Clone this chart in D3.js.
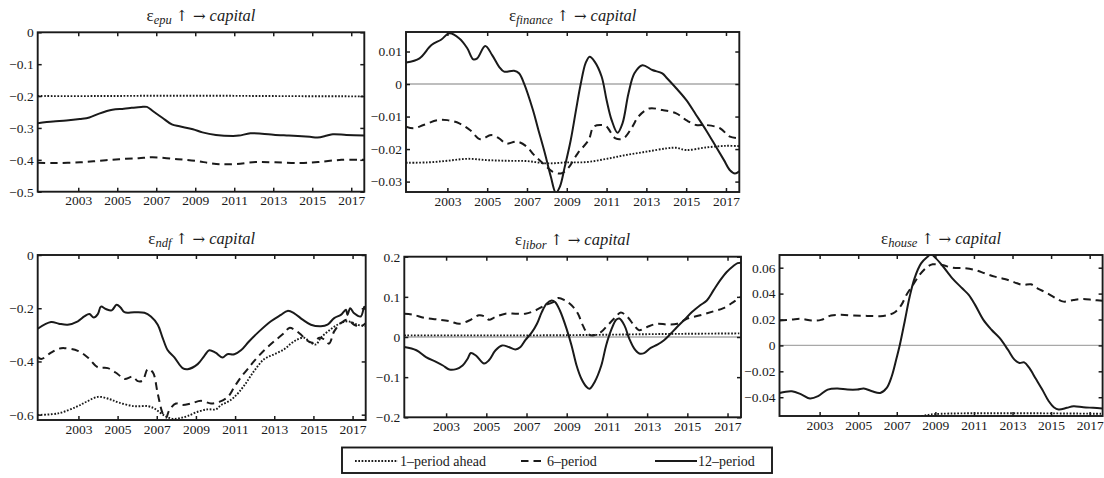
<!DOCTYPE html>
<html><head><meta charset="utf-8">
<script src="https://cdnjs.cloudflare.com/ajax/libs/d3/7.8.5/d3.min.js"></script>
<style>
body{margin:0;background:#fff}
svg{display:block}
svg text{font-family:"Liberation Serif","Tinos","Times New Roman","DejaVu Serif","Noto Serif",serif;fill:#1a1a1a}
svg tspan.arrow{font-family:"DejaVu Serif","DejaVu Sans",sans-serif;fill:#1a1a1a}
svg text.title{opacity:0.99}
</style>
</head><body>
<svg id="chart" width="1104" height="478"></svg>
<script>
// ---------- categories / ticks ----------
const yearTicks = [2003, 2005, 2007, 2009, 2011, 2013, 2015, 2017];
const xDomain = [2000.92, 2017.67];
const shockNames = ["epu", "finance", "ndf", "libor", "house"];
const seriesNames = ["1\u2013period ahead", "6\u2013period", "12\u2013period"];

const epuTicks = [0, -0.1, -0.2, -0.3, -0.4, -0.5];
const financeTicks = [0.01, 0, -0.01, -0.02, -0.03];
const ndfTicks = [0, -0.2, -0.4, -0.6];
const liborTicks = [0.2, 0.1, 0, -0.1, -0.2];
const houseTicks = [0.06, 0.04, 0.02, 0, -0.02, -0.04];

// ---------- series values [year, value] ----------
const epu1 = [[2000.92,-0.200],[2004,-0.200],[2007,-0.199],[2010,-0.199],[2013,-0.200],[2017.67,-0.201]];
const epu6 = [[2000.92,-0.409],[2001.7,-0.410],[2003.1,-0.408],[2004.1,-0.403],[2005.1,-0.398],[2006.1,-0.395],[2006.8,-0.392],[2008.1,-0.398],[2009.1,-0.404],[2009.7,-0.410],[2010.3,-0.414],[2011.1,-0.413],[2012.1,-0.407],[2013.1,-0.408],[2014.4,-0.410],[2015.3,-0.407],[2016.5,-0.400],[2017.67,-0.400]];
const epu12 = [[2000.92,-0.285],[2001.71,-0.280],[2002.39,-0.277],[2003.08,-0.272],[2003.57,-0.267],[2004.07,-0.255],[2004.75,-0.243],[2005.34,-0.240],[2005.74,-0.237],[2006.23,-0.234],[2006.52,-0.234],[2006.82,-0.247],[2007.31,-0.268],[2007.8,-0.289],[2008.19,-0.295],[2008.88,-0.304],[2009.37,-0.314],[2010.06,-0.322],[2010.94,-0.325],[2011.24,-0.324],[2011.83,-0.317],[2012.42,-0.318],[2013.01,-0.321],[2013.8,-0.324],[2014.88,-0.328],[2015.27,-0.330],[2015.76,-0.324],[2016.06,-0.320],[2016.75,-0.322],[2017.67,-0.324]];

const fin1 = [[2000.92,-0.0242],[2002,-0.0241],[2003,-0.0236],[2004,-0.0230],[2005,-0.0234],[2006,-0.0236],[2007,-0.0237],[2008,-0.0244],[2009,-0.0241],[2010,-0.0240],[2011,-0.0230],[2012,-0.0218],[2013,-0.0208],[2014,-0.0198],[2014.5,-0.0196],[2015,-0.0203],[2016,-0.0195],[2017,-0.0190],[2017.67,-0.0191]];
const fin6 = [[2000.92,-0.0131],[2001.3,-0.0136],[2001.8,-0.0126],[2002.5,-0.0111],[2003.0,-0.0111],[2003.6,-0.0121],[2004.15,-0.0142],[2004.65,-0.0170],[2005.2,-0.0157],[2005.6,-0.0167],[2005.95,-0.0183],[2006.5,-0.0177],[2007.0,-0.0193],[2007.35,-0.0218],[2007.9,-0.0249],[2008.3,-0.0270],[2008.7,-0.0275],[2009.05,-0.0260],[2009.55,-0.0213],[2010.1,-0.0172],[2010.35,-0.0131],[2010.75,-0.0126],[2011.0,-0.0131],[2011.45,-0.0167],[2011.85,-0.0167],[2012.3,-0.0131],[2012.6,-0.0100],[2013.15,-0.0075],[2013.8,-0.0080],[2014.5,-0.0090],[2015.0,-0.0111],[2015.5,-0.0126],[2016.0,-0.0126],[2016.7,-0.0136],[2017.2,-0.0162],[2017.67,-0.0167]];
const fin12 = [[2000.92,0.0066],[2001.6,0.0079],[2002.2,0.0120],[2002.7,0.0137],[2003.1,0.0156],[2003.6,0.0140],[2004.0,0.0110],[2004.3,0.0076],[2004.5,0.0079],[2004.9,0.0117],[2005.25,0.0089],[2005.6,0.0053],[2005.85,0.0038],[2006.35,0.0041],[2006.6,0.0033],[2006.85,0.0002],[2007.3,-0.0080],[2007.55,-0.0136],[2007.9,-0.0213],[2008.2,-0.0285],[2008.45,-0.0334],[2008.65,-0.0316],[2008.9,-0.0254],[2009.2,-0.0172],[2009.45,-0.0085],[2009.7,0.0],[2009.95,0.0065],[2010.15,0.0084],[2010.4,0.0069],[2010.75,0.0023],[2011.0,-0.0049],[2011.25,-0.0110],[2011.55,-0.0150],[2011.8,-0.0121],[2012.1,-0.0029],[2012.4,0.0033],[2012.8,0.0058],[2013.3,0.0043],[2013.8,0.0033],[2014.05,0.0017],[2014.5,-0.0013],[2015.0,-0.0049],[2015.5,-0.0095],[2016.0,-0.0142],[2016.5,-0.0193],[2016.9,-0.0234],[2017.2,-0.0265],[2017.45,-0.0275],[2017.67,-0.0268]];

const ndf1 = [[2000.92,-0.601],[2001.97,-0.595],[2002.91,-0.570],[2003.42,-0.551],[2004.01,-0.533],[2004.61,-0.542],[2005.08,-0.555],[2005.86,-0.568],[2006.54,-0.568],[2006.88,-0.577],[2007.22,-0.595],[2007.56,-0.610],[2007.9,-0.616],[2008.24,-0.612],[2008.58,-0.605],[2009.09,-0.589],[2009.6,-0.580],[2010.02,-0.580],[2010.28,-0.564],[2010.62,-0.552],[2010.96,-0.534],[2011.47,-0.490],[2011.98,-0.435],[2012.49,-0.391],[2013.0,-0.373],[2013.51,-0.354],[2013.85,-0.333],[2014.19,-0.317],[2014.53,-0.311],[2014.87,-0.330],[2015.13,-0.336],[2015.38,-0.311],[2015.8,-0.284],[2016.23,-0.262],[2016.74,-0.249],[2017.25,-0.262],[2017.67,-0.268]];
const ndf6 = [[2000.92,-0.383],[2001.1,-0.391],[2001.6,-0.367],[2002.0,-0.352],[2002.3,-0.350],[2002.97,-0.360],[2003.48,-0.385],[2003.99,-0.422],[2004.5,-0.425],[2005.0,-0.447],[2005.35,-0.466],[2005.77,-0.457],[2006.03,-0.474],[2006.28,-0.472],[2006.54,-0.429],[2006.8,-0.441],[2007.05,-0.521],[2007.3,-0.595],[2007.47,-0.612],[2007.64,-0.583],[2007.98,-0.558],[2008.32,-0.564],[2008.75,-0.558],[2009.26,-0.548],[2009.77,-0.558],[2010.19,-0.552],[2010.62,-0.534],[2010.96,-0.496],[2011.3,-0.459],[2011.64,-0.429],[2011.98,-0.398],[2012.49,-0.358],[2013.0,-0.324],[2013.51,-0.293],[2013.77,-0.274],[2014.02,-0.280],[2014.36,-0.299],[2014.6,-0.317],[2014.96,-0.330],[2015.3,-0.311],[2015.55,-0.317],[2015.8,-0.333],[2016.06,-0.287],[2016.4,-0.256],[2016.74,-0.243],[2017.08,-0.262],[2017.42,-0.268],[2017.67,-0.256]];
const ndf12 = [[2000.92,-0.277],[2001.6,-0.252],[2002.0,-0.258],[2002.45,-0.262],[2002.97,-0.249],[2003.3,-0.231],[2003.56,-0.222],[2003.78,-0.235],[2003.99,-0.222],[2004.15,-0.194],[2004.4,-0.203],[2004.7,-0.208],[2004.95,-0.187],[2005.15,-0.197],[2005.35,-0.215],[2005.86,-0.215],[2006.37,-0.217],[2006.7,-0.231],[2007.05,-0.262],[2007.3,-0.311],[2007.56,-0.358],[2007.9,-0.385],[2008.32,-0.425],[2008.58,-0.429],[2009.09,-0.410],[2009.43,-0.379],[2009.68,-0.358],[2010.0,-0.367],[2010.36,-0.385],[2010.6,-0.373],[2010.96,-0.373],[2011.3,-0.358],[2011.72,-0.324],[2012.23,-0.287],[2012.83,-0.249],[2013.34,-0.225],[2013.68,-0.210],[2014.02,-0.219],[2014.45,-0.243],[2014.87,-0.262],[2015.38,-0.268],[2015.72,-0.262],[2016.06,-0.237],[2016.4,-0.225],[2016.66,-0.206],[2016.74,-0.225],[2016.88,-0.200],[2017.08,-0.219],[2017.42,-0.231],[2017.6,-0.194],[2017.67,-0.205]];

const libor1 = [[2000.92,0.004],[2004,0.004],[2007,0.004],[2010,0.005],[2013,0.007],[2015,0.008],[2017.67,0.009]];
const libor6 = [[2000.92,0.058],[2001.3,0.056],[2002.0,0.047],[2002.7,0.043],[2003.2,0.039],[2003.66,0.033],[2004.15,0.041],[2004.64,0.054],[2004.97,0.050],[2005.13,0.043],[2005.46,0.050],[2005.95,0.058],[2006.45,0.058],[2006.94,0.058],[2007.43,0.066],[2007.92,0.079],[2008.33,0.087],[2008.58,0.097],[2008.91,0.091],[2009.24,0.079],[2009.56,0.058],[2009.8,0.029],[2010.05,0.008],[2010.3,0.004],[2010.7,0.012],[2011.03,0.029],[2011.44,0.050],[2011.69,0.061],[2012.02,0.050],[2012.35,0.029],[2012.6,0.017],[2013.0,0.025],[2013.5,0.033],[2014.0,0.031],[2014.5,0.033],[2015.0,0.046],[2015.64,0.054],[2016.3,0.064],[2016.8,0.072],[2017.29,0.087],[2017.67,0.100]];
const libor12 = [[2000.92,-0.025],[2001.52,-0.033],[2002.0,-0.050],[2002.5,-0.062],[2002.84,-0.071],[2003.16,-0.081],[2003.5,-0.080],[2003.82,-0.071],[2004.07,-0.054],[2004.23,-0.040],[2004.48,-0.046],[2004.89,-0.066],[2005.13,-0.058],[2005.46,-0.033],[2005.79,-0.021],[2006.12,-0.025],[2006.45,-0.031],[2006.7,-0.025],[2006.94,-0.008],[2007.27,0.012],[2007.52,0.033],[2007.76,0.062],[2008.0,0.083],[2008.25,0.091],[2008.42,0.087],[2008.66,0.066],[2008.99,0.021],[2009.24,-0.021],[2009.49,-0.071],[2009.73,-0.104],[2009.98,-0.124],[2010.14,-0.129],[2010.39,-0.112],[2010.72,-0.071],[2010.96,-0.021],[2011.21,0.017],[2011.46,0.043],[2011.62,0.046],[2011.87,0.029],[2012.11,-0.004],[2012.36,-0.029],[2012.61,-0.041],[2012.85,-0.040],[2013.18,-0.027],[2013.51,-0.019],[2013.84,-0.008],[2014.17,0.008],[2014.49,0.025],[2014.82,0.041],[2015.23,0.062],[2015.64,0.079],[2015.97,0.091],[2016.3,0.116],[2016.63,0.141],[2016.96,0.162],[2017.29,0.177],[2017.5,0.184],[2017.67,0.185]];

const house1 = [[2000.92,-0.0565],[2007.5,-0.0560],[2008.3,-0.0545],[2009,-0.0530],[2017.67,-0.0528]];
const house6 = [[2000.92,0.0192],[2001.56,0.0200],[2002.07,0.0205],[2002.58,0.0192],[2003.08,0.0197],[2003.59,0.0231],[2004.1,0.0236],[2004.78,0.0231],[2005.46,0.0228],[2006.14,0.0226],[2006.57,0.0236],[2006.9,0.0256],[2007.24,0.0313],[2007.5,0.0390],[2007.84,0.0467],[2008.18,0.0544],[2008.6,0.0608],[2008.86,0.0626],[2009.37,0.0620],[2009.88,0.0600],[2010.56,0.0595],[2011.06,0.0582],[2011.57,0.0556],[2012.08,0.0531],[2012.59,0.0513],[2013.1,0.0487],[2013.53,0.0467],[2013.95,0.0472],[2014.29,0.0441],[2014.8,0.0403],[2015.31,0.0359],[2015.65,0.0338],[2016.16,0.0351],[2016.67,0.0359],[2017.18,0.0351],[2017.67,0.0344]];
const house12 = [[2000.92,-0.0367],[2001.56,-0.0354],[2002.07,-0.0380],[2002.5,-0.0410],[2002.92,-0.0392],[2003.42,-0.0341],[2003.93,-0.0333],[2004.44,-0.0341],[2004.95,-0.0341],[2005.29,-0.0333],[2005.72,-0.0354],[2006.14,-0.0367],[2006.48,-0.0328],[2006.74,-0.0238],[2006.99,-0.0097],[2007.16,0.0005],[2007.41,0.0185],[2007.67,0.0377],[2007.92,0.0518],[2008.26,0.0633],[2008.6,0.0685],[2008.77,0.0703],[2009.03,0.0672],[2009.37,0.0615],[2009.88,0.0518],[2010.39,0.0441],[2010.73,0.0390],[2011.06,0.0313],[2011.49,0.0197],[2011.91,0.0121],[2012.34,0.0056],[2012.76,-0.0033],[2013.1,-0.0110],[2013.36,-0.0136],[2013.61,-0.0131],[2013.87,-0.0174],[2014.2,-0.0256],[2014.54,-0.0341],[2014.88,-0.0431],[2015.14,-0.0477],[2015.39,-0.0495],[2015.82,-0.0482],[2016.16,-0.0469],[2016.67,-0.0477],[2017.18,-0.0482],[2017.67,-0.0487]];

// ---------- layout (pixel boxes) ----------
const panels = [
  {name: shockNames[0], l: 37.7, t: 32.3, r: 364.3, b: 191.7, y: [-0.5, 0], ticks: epuTicks, zero: false, data: [epu1, epu6, epu12]},
  {name: shockNames[1], l: 406, t: 32, r: 739.3, b: 192, y: [-0.0332, 0.016], ticks: financeTicks, zero: true, data: [fin1, fin6, fin12]},
  {name: shockNames[2], l: 37.7, t: 255, r: 365.7, b: 420, y: [-0.62, 0], ticks: ndfTicks, zero: false, data: [ndf1, ndf6, ndf12]},
  {name: shockNames[3], l: 404.3, t: 256.7, r: 741, b: 417.3, y: [-0.2, 0.2], ticks: liborTicks, zero: true, data: [libor1, libor6, libor12]},
  {name: shockNames[4], l: 779.5, t: 255, r: 1102.6, b: 416, y: [-0.0545, 0.0698], ticks: houseTicks, zero: true, data: [house1, house6, house12]}
];
const lineStyles = [
  {dash: "1.7,1.6", w: 1.9},
  {dash: "7.5,5", w: 2},
  {dash: null, w: 2}
];
const ink = "#1a1a1a";
const serif = '"Liberation Serif","Tinos","Times New Roman","DejaVu Serif","Noto Serif",serif';
const fmt = d3.format("");

const svg = d3.select("#chart");

panels.forEach((p, i) => {
  const x = d3.scaleLinear().domain(xDomain).range([p.l, p.r]);
  const y = d3.scaleLinear().domain(p.y).range([p.b, p.t]);
  const g = svg.append("g");

  const clipId = "clip" + i;
  svg.append("clipPath").attr("id", clipId)
    .append("rect").attr("x", p.l).attr("y", p.t).attr("width", p.r - p.l).attr("height", p.b - p.t);

  if (p.zero) {
    g.append("line").attr("x1", p.l).attr("x2", p.r).attr("y1", y(0)).attr("y2", y(0))
      .attr("stroke", "#a8a8a8").attr("stroke-width", 1.4);
  }

  const line = d3.line().x(d => x(d[0])).y(d => y(d[1])).curve(d3.curveCatmullRom.alpha(0.5));
  const lg = g.append("g").attr("clip-path", `url(#${clipId})`);
  p.data.forEach((s, k) => {
    lg.append("path").datum(s).attr("d", line)
      .attr("fill", "none").attr("stroke", ink)
      .attr("stroke-width", lineStyles[k].w)
      .attr("stroke-dasharray", lineStyles[k].dash)
      .attr("stroke-linejoin", "round");
  });

  const ax = g.append("g").attr("transform", `translate(0,${p.b})`)
    .call(d3.axisBottom(x).tickValues(yearTicks).tickFormat(d3.format("d")).tickSize(-4).tickPadding(4));
  const at = g.append("g").attr("transform", `translate(0,${p.t})`)
    .call(d3.axisTop(x).tickValues(yearTicks).tickFormat("").tickSize(-4));
  const ay = g.append("g").attr("transform", `translate(${p.l},0)`)
    .call(d3.axisLeft(y).tickValues(p.ticks).tickFormat(fmt).tickSize(-4).tickPadding(4));
  const ar = g.append("g").attr("transform", `translate(${p.r},0)`)
    .call(d3.axisRight(y).tickValues(p.ticks).tickFormat("").tickSize(-4));
  [ax, at, ay, ar].forEach(a => {
    a.attr("font-family", serif).attr("font-size", 13.5);
    a.select(".domain").remove();
    a.selectAll(".tick line").attr("stroke", ink).attr("stroke-width", 1.5);
    a.selectAll(".tick text").attr("fill", ink).style("font-family", serif).style("font-size", "13.5px");
  });

  g.append("rect").attr("x", p.l).attr("y", p.t).attr("width", p.r - p.l).attr("height", p.b - p.t)
    .attr("fill", "none").attr("stroke", ink).attr("stroke-width", 1.9);

  const tt = g.append("text").attr("class", "title").attr("x", (p.l + p.r) / 2).attr("y", p.t - 11.5)
    .attr("text-anchor", "middle");
  tt.append("tspan").attr("font-size", 17).text("\u03b5");
  tt.append("tspan").attr("font-size", 12.5).attr("font-style", "italic").attr("dy", 3.5).text(p.name);
  tt.append("tspan").attr("font-size", 15).attr("dy", -3.5).text(" ");
  tt.append("tspan").attr("class", "arrow").attr("font-size", 15).text("\u2191\uFE0E \u2192\uFE0E");
  tt.append("tspan").attr("font-size", 16.5).attr("font-style", "italic").text("  capital");
});

// ---------- legend ----------
const leg = svg.append("g");
leg.append("rect").attr("x", 342).attr("y", 447.5).attr("width", 430).attr("height", 25.5)
  .attr("fill", "#fff").attr("stroke", ink).attr("stroke-width", 1.9);
const legItems = [
  {x1: 355, x2: 398, tx: 400},
  {x1: 521, x2: 546, tx: 547},
  {x1: 655, x2: 697, tx: 698}
];
legItems.forEach((it, k) => {
  leg.append("line").attr("x1", it.x1).attr("x2", it.x2).attr("y1", 461).attr("y2", 461)
    .attr("stroke", ink).attr("stroke-width", lineStyles[k].w).attr("stroke-dasharray", lineStyles[k].dash);
  leg.append("text").attr("x", it.tx).attr("y", 465.5).attr("font-size", 14).text(seriesNames[k]);
});
</script>
</body></html>
